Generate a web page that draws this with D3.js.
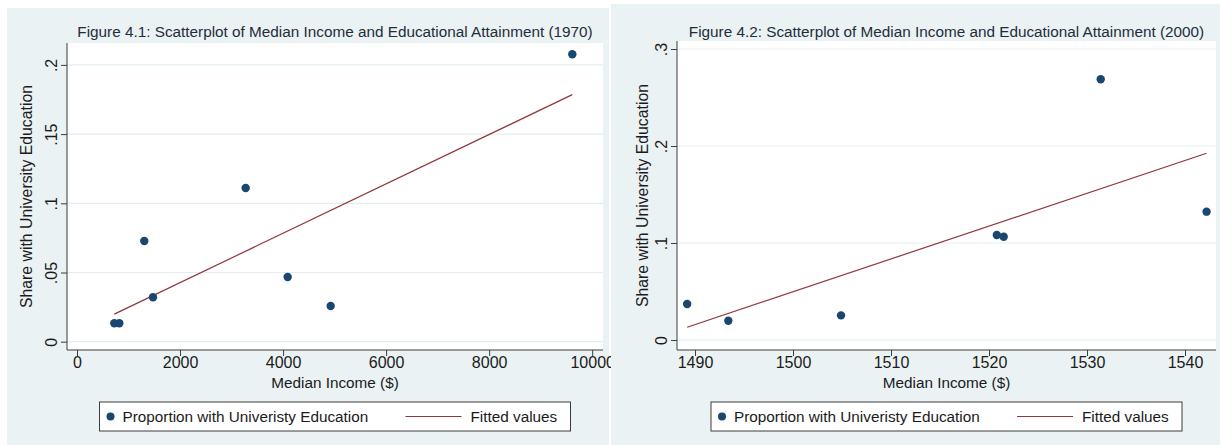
<!DOCTYPE html>
<html>
<head>
<meta charset="utf-8">
<script src="https://cdn.jsdelivr.net/npm/d3@7"></script>
<style>
  html, body { margin: 0; padding: 0; background: #ffffff; }
  svg { display: block; font-family: "Liberation Sans", Arial, Helvetica, sans-serif; }
</style>
</head>
<body>
<svg id="chart" width="1220" height="445"></svg>
<script>
// ---- 1970 ----
const income1970 = [724, 821, 1306, 1475, 3274, 4089, 4924, 9614];
const share1970 = [0.0133, 0.0133, 0.0728, 0.0321, 0.1111, 0.0467, 0.0258, 0.2077];
const fitIncome1970 = [724, 9614];
const fitShare1970 = [0.0199, 0.1785];
const xTicks1970 = [0, 2000, 4000, 6000, 8000, 10000];
const yTicks1970 = [0, 0.05, 0.1, 0.15, 0.2];
const yTickLabels1970 = ["0", ".05", ".1", ".15", ".2"];

// ---- 2000 ----
const income2000 = [1489.2, 1493.4, 1504.9, 1520.8, 1521.5, 1531.4, 1542.2];
const share2000 = [0.0371, 0.0199, 0.0254, 0.1082, 0.1065, 0.2688, 0.1323];
const fitIncome2000 = [1489.2, 1542.2];
const fitShare2000 = [0.0132, 0.1925];
const xTicks2000 = [1490, 1500, 1510, 1520, 1530, 1540];
const yTicks2000 = [0, 0.1, 0.2, 0.3];
const yTickLabels2000 = ["0", ".1", ".2", ".3"];

// ---- shared text ----
const xTitle = "Median Income ($)";
const yTitle = "Share with University Education";
const legendLabels = ["Proportion with Univeristy Education", "Fitted values"];

const panels = [
  {
    title: "Figure 4.1: Scatterplot of Median Income and Educational Attainment (1970)",
    xs: income1970, ys: share1970, fx: fitIncome1970, fy: fitShare1970,
    xTicks: xTicks1970, yTicks: yTicks1970, yLabels: yTickLabels1970,
    bg: { x: 7, y: 8, w: 602, h: 437 },
    plot: { l: 67, t: 43, r: 603, b: 350 },
    xDomain: [0, 10000], xRange: [77, 592.2],
    yDomain: [0, 0.2], yRange: [341.7, 64.9],
    yTitleX: 32
  },
  {
    title: "Figure 4.2: Scatterplot of Median Income and Educational Attainment (2000)",
    xs: income2000, ys: share2000, fx: fitIncome2000, fy: fitShare2000,
    xTicks: xTicks2000, yTicks: yTicks2000, yLabels: yTickLabels2000,
    bg: { x: 611, y: 4, w: 609, h: 441 },
    plot: { l: 677, t: 41, r: 1216, b: 350 },
    xDomain: [1490, 1540], xRange: [695, 1185],
    yDomain: [0, 0.3], yRange: [340, 49],
    yTitleX: 648
  }
];

const BG = "#eaf2f3";
const GRID = "#e4eef0";
const AXIS = "#3c3c3c";
const TEXT = "#1b1b1b";
const MARKER = "#1a476f";
const FIT = "#90353b";
const FS = 15.3;      // titles and legend
const FS_TICK = 16;   // tick labels
const FS_YT = 15.8;   // vertical axis title
const FONT = "'Liberation Sans', Arial, Helvetica, sans-serif";

const svg = d3.select("#chart");

panels.forEach(p => {
  const g = svg.append("g");
  const x = d3.scaleLinear().domain(p.xDomain).range(p.xRange);
  const y = d3.scaleLinear().domain(p.yDomain).range(p.yRange);
  const cx = (p.plot.l + p.plot.r) / 2;
  const cy = (p.plot.t + p.plot.b) / 2;

  // graph region and plot region
  g.append("rect").attr("x", p.bg.x).attr("y", p.bg.y)
    .attr("width", p.bg.w).attr("height", p.bg.h).attr("fill", BG);
  g.append("rect").attr("x", p.plot.l).attr("y", p.plot.t)
    .attr("width", p.plot.r - p.plot.l).attr("height", p.plot.b - p.plot.t)
    .attr("fill", "#ffffff");

  // horizontal grid
  g.append("g").selectAll("line").data(p.yTicks).join("line")
    .attr("x1", p.plot.l).attr("x2", p.plot.r)
    .attr("y1", d => y(d)).attr("y2", d => y(d))
    .attr("stroke", GRID).attr("stroke-width", 1.2);

  // y axis
  const yAxis = g.append("g")
    .attr("transform", `translate(${p.plot.l},0)`)
    .call(d3.axisLeft(y).tickValues(p.yTicks).tickSize(6).tickSizeOuter(0)
      .tickFormat((d, i) => p.yLabels[i]));
  yAxis.select(".domain").remove();
  yAxis.selectAll(".tick line").attr("stroke", AXIS);
  yAxis.selectAll(".tick text")
    .attr("x", null).attr("dy", null)
    .attr("text-anchor", "middle")
    .attr("transform", "translate(-10,0) rotate(-90)")
    .attr("fill", TEXT).style("font-size", FS_TICK + "px")
    .style("font-family", FONT);
  g.append("line").attr("x1", p.plot.l).attr("x2", p.plot.l)
    .attr("y1", p.plot.t).attr("y2", p.plot.b)
    .attr("stroke", AXIS).attr("stroke-width", 1);

  // x axis
  const xAxis = g.append("g")
    .attr("transform", `translate(0,${p.plot.b})`)
    .call(d3.axisBottom(x).tickValues(p.xTicks).tickSize(6).tickSizeOuter(0)
      .tickFormat(d3.format("d")));
  xAxis.select(".domain").remove();
  xAxis.selectAll(".tick line").attr("stroke", AXIS);
  xAxis.selectAll(".tick text")
    .attr("y", 17.5).attr("dy", null)
    .attr("fill", TEXT).style("font-size", FS_TICK + "px")
    .style("font-family", FONT);
  g.append("line").attr("x1", p.plot.l).attr("x2", p.plot.r)
    .attr("y1", p.plot.b).attr("y2", p.plot.b)
    .attr("stroke", AXIS).attr("stroke-width", 1);

  // titles
  g.append("text").attr("x", cx).attr("y", 37)
    .attr("text-anchor", "middle").attr("fill", "#1f2d3b")
    .style("font-size", FS + "px").text(p.title);
  g.append("text").attr("x", cx).attr("y", 388)
    .attr("text-anchor", "middle").attr("fill", TEXT)
    .style("font-size", FS + "px").text(xTitle);
  g.append("text")
    .attr("transform", `translate(${p.yTitleX},${cy}) rotate(-90)`)
    .attr("text-anchor", "middle").attr("fill", TEXT)
    .style("font-size", FS_YT + "px").text(yTitle);

  // fitted line
  const fitPts = p.fx.map((v, i) => [v, p.fy[i]]);
  g.append("path").datum(fitPts)
    .attr("d", d3.line().x(d => x(d[0])).y(d => y(d[1])))
    .attr("fill", "none").attr("stroke", FIT).attr("stroke-width", 1.2);

  // observations
  const pts = p.xs.map((v, i) => [v, p.ys[i]]);
  g.append("g").selectAll("circle").data(pts).join("circle")
    .attr("cx", d => x(d[0])).attr("cy", d => y(d[1]))
    .attr("r", 4.2).attr("fill", MARKER);

  // legend
  const lw = 471, lh = 29;
  const lx = cx - lw / 2, ly = 402;
  const lg = g.append("g").attr("transform", `translate(${lx},${ly})`);
  lg.append("rect").attr("x", 0).attr("y", 0).attr("width", lw).attr("height", lh)
    .attr("fill", "#ffffff").attr("stroke", AXIS).attr("stroke-width", 1);
  lg.append("circle").attr("cx", 11).attr("cy", lh / 2).attr("r", 4)
    .attr("fill", MARKER);
  lg.append("text").attr("x", 23).attr("y", lh / 2 + 5.4)
    .attr("fill", TEXT).style("font-size", FS + "px").text(legendLabels[0]);
  lg.append("line").attr("x1", 306).attr("x2", 362)
    .attr("y1", lh / 2).attr("y2", lh / 2)
    .attr("stroke", FIT).attr("stroke-width", 1.2);
  lg.append("text").attr("x", 371).attr("y", lh / 2 + 5.4)
    .attr("fill", TEXT).style("font-size", FS + "px").text(legendLabels[1]);
});
</script>
</body>
</html>
